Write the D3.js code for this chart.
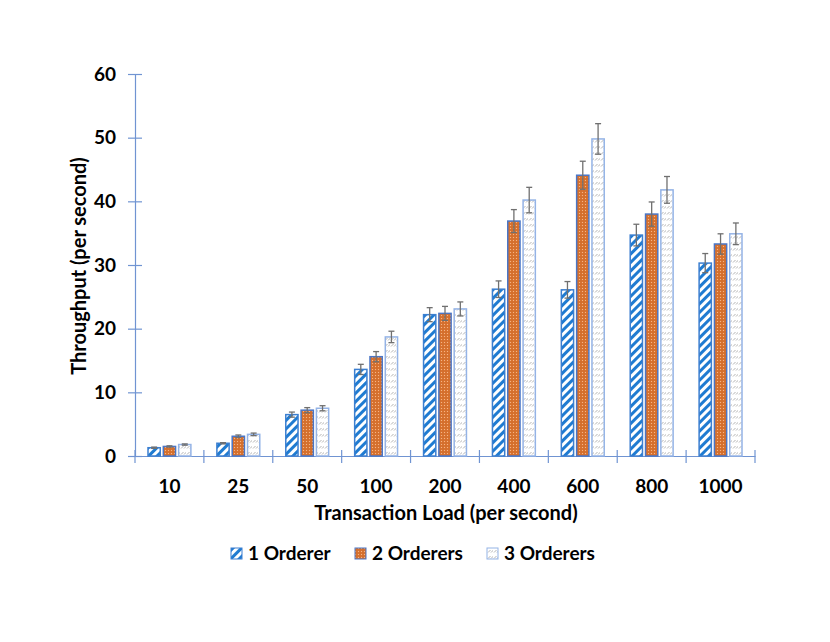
<!DOCTYPE html>
<html>
<head>
<meta charset="utf-8">
<script src="https://cdn.jsdelivr.net/npm/d3@7"></script>
<style>
body { margin:0; background:#fff; }
text { font-family: Lato, 'Open Sans', sans-serif; font-weight:bold; fill:#000; }
.axis path, .axis line { stroke:#7094d2; stroke-width:1.2; }
.ebar { stroke:#707070; stroke-width:1.3; }
</style>
</head>
<body>
<svg id="chart" width="830" height="642"></svg>
<script>
var loads = ['10','25','50','100','200','400','600','800','1000'];
var series = ['1 Orderer','2 Orderers','3 Orderers'];
var one = [1.3, 2.0, 6.5, 13.6, 22.2, 26.2, 26.1, 34.7, 30.3];
var two = [1.5, 3.1, 7.2, 15.6, 22.4, 36.9, 44.1, 38.0, 33.3];
var three = [1.8, 3.4, 7.5, 18.7, 23.1, 40.2, 49.8, 41.8, 34.9];
var errOne = [0.1, 0.1, 0.4, 0.8, 1.1, 1.3, 1.3, 1.7, 1.5];
var errTwo = [0.1, 0.2, 0.4, 0.8, 1.1, 1.8, 2.2, 1.9, 1.6];
var errThree = [0.1, 0.2, 0.4, 0.9, 1.1, 2.0, 2.4, 2.1, 1.7];
var yTicks = [0, 10, 20, 30, 40, 50, 60];

var svg = d3.select('#chart');

//patterns for the three series
var defs = svg.append('defs');
var p1 = defs.append('pattern').attr('id', 'pat0').attr('patternUnits', 'userSpaceOnUse')
	.attr('width', 6).attr('height', 6).attr('patternTransform', 'rotate(45)');
p1.append('rect').attr('width', 6).attr('height', 6).attr('fill', '#fff');
p1.append('rect').attr('width', 3).attr('height', 6).attr('fill', '#1f7bd1');

var p2 = defs.append('pattern').attr('id', 'pat1').attr('patternUnits', 'userSpaceOnUse')
	.attr('width', 3).attr('height', 3);
p2.append('rect').attr('width', 3).attr('height', 3).attr('fill', '#d9732f');
p2.append('rect').attr('width', 1).attr('height', 1).attr('fill', '#f3b487');
p2.append('rect').attr('x', 1.5).attr('y', 1.5).attr('width', 1).attr('height', 1).attr('fill', '#c2622a');

var p3 = defs.append('pattern').attr('id', 'pat2').attr('patternUnits', 'userSpaceOnUse')
	.attr('width', 6).attr('height', 6);
p3.append('rect').attr('width', 6).attr('height', 6).attr('fill', '#fff');
p3.append('line').attr('x1', 1).attr('y1', 4.5).attr('x2', 3.5).attr('y2', 2)
	.attr('stroke', '#b4b4b4').attr('stroke-width', 1);
p3.append('line').attr('x1', 4).attr('y1', 4.5).attr('x2', 6.5).attr('y2', 2)
	.attr('stroke', '#b4b4b4').attr('stroke-width', 1);

var borders = ['#3c7fd0', '#4a76c6', '#94b3e6'];

//scales
var x = d3.scaleBand().domain(loads).range([135, 755]);
var x1 = d3.scaleBand().domain(series).range([13, x.bandwidth() - 13]).paddingInner(0.2);
var y = d3.scaleLinear().domain([0, 60]).range([456, 74]);

var table = [];
loads.forEach(function(l, i){
	table.push({'load':l, 's':0, 'v':one[i], 'e':errOne[i]});
	table.push({'load':l, 's':1, 'v':two[i], 'e':errTwo[i]});
	table.push({'load':l, 's':2, 'v':three[i], 'e':errThree[i]});
});

//axes
var yAxis = svg.append('g').attr('class', 'axis')
	.attr('transform', 'translate(135,0)')
	.call(d3.axisLeft(y).tickValues(yTicks).tickSizeOuter(0).tickSize(7).tickPadding(12));
yAxis.selectAll('.tick line').attr('x1', -7).attr('x2', 7);
yAxis.selectAll('text').style('font-size', '19px');

var xAxis = svg.append('g').attr('class', 'axis')
	.attr('transform', 'translate(0,456)')
	.call(d3.axisBottom(x).tickSize(0).tickSizeOuter(0).tickPadding(24));
xAxis.selectAll('text').style('font-size', '19px');
//category separators
xAxis.selectAll('.sep').data(loads.concat(['end'])).enter().append('line')
	.attr('x1', function(d, i){ return 135 + i * x.step(); })
	.attr('x2', function(d, i){ return 135 + i * x.step(); })
	.attr('y1', -6).attr('y2', 7)
	.attr('stroke', '#7094d2').attr('stroke-width', 1.2);

//bars
svg.append('g').selectAll('rect').data(table).enter().append('rect')
	.attr('x', function(d){ return x(d.load) + x1(series[d.s]); })
	.attr('y', function(d){ return y(d.v); })
	.attr('width', x1.bandwidth())
	.attr('height', function(d){ return y(0) - y(d.v); })
	.attr('fill', function(d){ return 'url(#pat' + d.s + ')'; })
	.attr('stroke', function(d){ return borders[d.s]; })
	.attr('stroke-width', 1.5);

//error bars
var eb = svg.append('g').selectAll('g').data(table).enter().append('g')
	.attr('transform', function(d){ return 'translate(' + (x(d.load) + x1(series[d.s]) + x1.bandwidth() / 2) + ',0)'; });
eb.append('line').attr('class', 'ebar')
	.attr('y1', function(d){ return y(d.v + d.e); })
	.attr('y2', function(d){ return y(d.v - d.e); });
eb.append('line').attr('class', 'ebar').attr('x1', -3).attr('x2', 3)
	.attr('y1', function(d){ return y(d.v + d.e); })
	.attr('y2', function(d){ return y(d.v + d.e); });
eb.append('line').attr('class', 'ebar').attr('x1', -3).attr('x2', 3)
	.attr('y1', function(d){ return y(d.v - d.e); })
	.attr('y2', function(d){ return y(d.v - d.e); });

//axis titles
svg.append('text').attr('x', 446).attr('y', 520).attr('text-anchor', 'middle')
	.style('font-size', '20px').text('Transaction Load (per second)');
svg.append('text').attr('transform', 'translate(86,266) rotate(-90)').attr('text-anchor', 'middle')
	.style('font-size', '20px').text('Throughput (per second)');

//legend
var legX = [231, 355, 487];
var leg = svg.append('g').selectAll('g').data(series).enter().append('g')
	.attr('transform', function(d, i){ return 'translate(' + legX[i] + ',548)'; });
leg.append('rect').attr('width', 11).attr('height', 11)
	.attr('fill', function(d, i){ return 'url(#pat' + i + ')'; })
	.attr('stroke', function(d, i){ return borders[i]; }).attr('stroke-width', 1);
leg.append('text').attr('x', 17).attr('y', 11.5).style('font-size', '19px')
	.text(function(d){ return d; });
</script>
</body>
</html>
